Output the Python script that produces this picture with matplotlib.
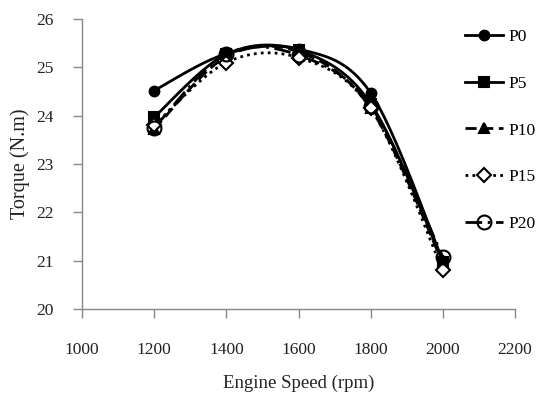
import numpy as np
import matplotlib
matplotlib.use("Agg")
import matplotlib.pyplot as plt
from matplotlib.lines import Line2D

speed = [1200, 1400, 1600, 1800, 2000]
p0 = [24.52, 25.28, 25.38, 24.47, 21.00]
p5 = [23.97, 25.27, 25.35, 24.25, 20.98]
p10 = [23.72, 25.22, 25.32, 24.15, 20.95]
p15 = [23.80, 25.10, 25.20, 24.15, 20.80]
p20 = [23.75, 25.27, 25.25, 24.20, 21.08]
labels = ["P0", "P5", "P10", "P15", "P20"]
xticks = [1000, 1200, 1400, 1600, 1800, 2000, 2200]
yticks = [20, 21, 22, 23, 24, 25, 26]

plt.rcParams['font.family'] = ['Liberation Serif', 'DejaVu Serif']


def smooth(x, y, n=30):
    x = np.asarray(x, float)
    y = np.asarray(y, float)
    px = np.concatenate([[x[0]], x, [x[-1]]])
    py = np.concatenate([[y[0]], y, [y[-1]]])
    xs, ys = [], []
    t = np.linspace(0, 1, n)
    for i in range(1, len(px) - 2):
        p0x, p1x, p2x, p3x = px[i - 1:i + 3]
        p0y, p1y, p2y, p3y = py[i - 1:i + 3]
        c1x = p1x + (p2x - p0x) / 6
        c1y = p1y + (p2y - p0y) / 6
        c2x = p2x - (p3x - p1x) / 6
        c2y = p2y - (p3y - p1y) / 6
        bx = (1 - t) ** 3 * p1x + 3 * (1 - t) ** 2 * t * c1x + 3 * (1 - t) * t ** 2 * c2x + t ** 3 * p2x
        by = (1 - t) ** 3 * p1y + 3 * (1 - t) ** 2 * t * c1y + 3 * (1 - t) * t ** 2 * c2y + t ** 3 * p2y
        xs.append(bx)
        ys.append(by)
    return np.concatenate(xs), np.concatenate(ys)


fig = plt.figure(figsize=(5.36, 3.97), dpi=100)
ax = fig.add_axes([82 / 536, 1 - 309 / 397, (515 - 82) / 536, (309 - 19) / 397])

series = [p0, p5, p10, p15, p20]
styles = [
    dict(ls='-', marker='o', mfc='black', ms=7),
    dict(ls='-', marker='s', mfc='black', ms=6.5),
    dict(ls=(0, (4, 2)), marker='^', mfc='black', ms=7),
    dict(ls=(0, (1, 1.5)), marker='D', mfc='white', ms=7),
    dict(ls=(0, (6, 2, 1, 2)), marker='o', mfc='none', ms=10),
]
handles = []
for vals, st, lab in zip(series, styles, labels):
    sx, sy = smooth(speed, vals)
    ax.plot(sx, sy, color='black', lw=2.0, ls=st['ls'], zorder=2)
    ax.plot(speed, vals, ls='none', marker=st['marker'], mfc=st['mfc'], mec='black',
            mew=1.5, ms=st['ms'], color='black', zorder=3)
    handles.append(Line2D([], [], color='black', lw=2.0, ls=st['ls'], marker=st['marker'],
                          mfc=st['mfc'], mec='black', mew=1.5, ms=st['ms']))

ax.set_xlim(1000, 2200)
ax.set_ylim(20, 26)
ax.set_xticks(xticks)
ax.set_yticks(yticks)
for s in ['top', 'right']:
    ax.spines[s].set_visible(False)
for s in ['left', 'bottom']:
    ax.spines[s].set_color('#888888')
    ax.spines[s].set_linewidth(1.0)
ax.tick_params(direction='out', length=6.5, width=1.0, color='#888888', labelsize=12.5,
               labelcolor='#222222')
ax.tick_params(axis='x', pad=17)
ax.tick_params(axis='y', pad=14)
ax.set_xlabel('Engine Speed (rpm)', fontsize=13.5, labelpad=12, color='#222222')
ax.set_ylabel('Torque (N.m)', fontsize=14.5, labelpad=4, color='#222222')

fig.legend(handles, labels, loc='upper left', bbox_to_anchor=(465 / 536, 1 - 29 / 397),
           frameon=False, fontsize=12.5, labelspacing=1.76, handlelength=2.2,
           handletextpad=0.3, borderaxespad=0, borderpad=0)

fig.savefig('out.png', dpi=100)
